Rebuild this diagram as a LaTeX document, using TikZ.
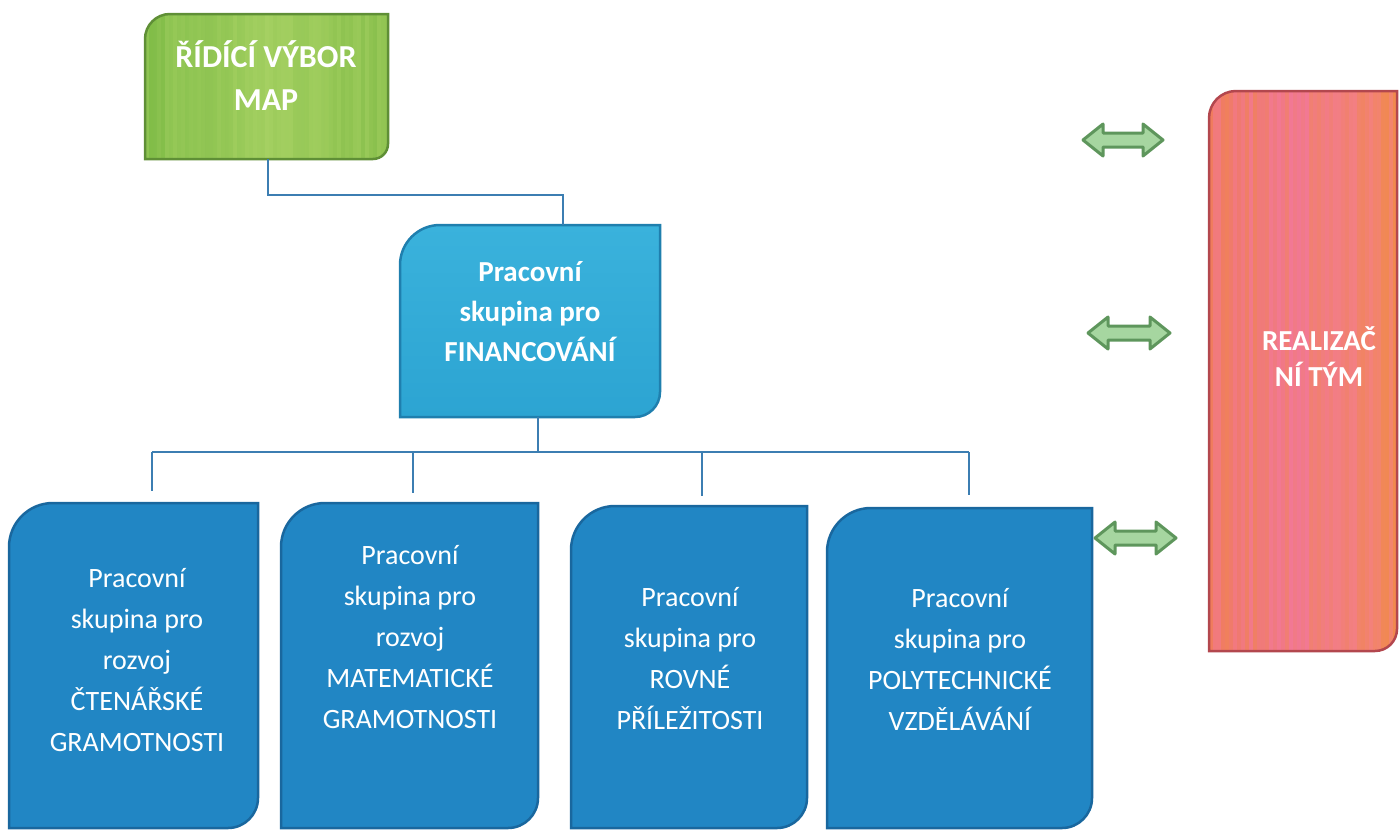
\documentclass[tikz,border=0pt]{standalone}
\usepackage{fontspec}
\setmainfont{Carlito}
\pgfdeclarelayer{background}
\pgfsetlayers{background,main}
\definecolor{grL}{HTML}{7EBB46}
\definecolor{grM}{HTML}{9DCC5C}
\definecolor{grR}{HTML}{86BE4A}
\definecolor{grD}{HTML}{5F8F36}
\definecolor{grS}{HTML}{B5DA6E}
\definecolor{finF}{HTML}{2CA4D2}
\definecolor{finT}{HTML}{3AB2DC}
\definecolor{finD}{HTML}{1F7FAE}
\definecolor{bxF}{HTML}{2186C4}
\definecolor{bxD}{HTML}{19679E}
\definecolor{rdL}{HTML}{F07A62}
\definecolor{rdM}{HTML}{F27895}
\definecolor{rdR}{HTML}{F28A50}
\definecolor{rdD}{HTML}{B3474E}
\definecolor{rdP}{HTML}{F57BA6}
\definecolor{rdO}{HTML}{F08A45}
\definecolor{connblue}{HTML}{3C7EB2}
\definecolor{arF}{HTML}{A6D6A0}
\definecolor{arD}{HTML}{5E965C}
\tikzset{
  boxnode/.style={rectangle, inner sep=0pt, outer sep=0pt, draw=none},
  conn/.style={draw=connblue, line width=1.6pt},
  wtext/.style={text=white, align=center, inner sep=0pt},
  greensty/.style={left color=grL, right color=grR, middle color=grM, draw=grD, line width=2.5pt,
    path picture={\foreach \k in {0,...,62}{\pgfmathsetmacro\oo{0.35*rnd}
      \fill[grS, opacity=\oo] (path picture bounding box.south west) ++(\k*4,0) rectangle ++(4,160);}}},
  finsty/.style={top color=finT, bottom color=finF, draw=finD, line width=2.5pt},
  bluesty/.style={fill=bxF, draw=bxD, line width=2.5pt},
  redsty/.style={left color=rdL, right color=rdR, middle color=rdM, draw=rdD, line width=2.5pt,
    path picture={\foreach \k in {0,...,48}{\pgfmathsetmacro\oo{0.4*rnd}
      \pgfmathsetmacro\cc{rnd>0.5 ? 1 : 0}
      \ifdim\cc pt>0.5pt \def\scol{rdP}\else\def\scol{rdO}\fi
      \fill[\scol, opacity=\oo] (path picture bounding box.south west) ++(\k*4,0) rectangle ++(4,570);}}},
  arrowsty/.style={fill=arF, draw=arD, line width=3pt, line join=round},
}
% #1 node, #2 top-left radius, #3 bottom-right radius, #4 style
\newcommand\diagshape[4]{%
  \path[#4] (#1.south west) -- ([yshift=-#2pt]#1.north west)
    arc[start angle=180, end angle=90, radius=#2] -- (#1.north east)
    -- ([yshift=#3pt]#1.south east)
    arc[start angle=0, end angle=-90, radius=#3] -- cycle;}
% #1 left x, #2 right x, #3 y (px, downward)
\newcommand\dblarrow[3]{%
  \path[arrowsty] (#1,-#3) -- (#1+20,-#3+16) -- (#1+20,-#3+7) -- (#2-20,-#3+7)
    -- (#2-20,-#3+16) -- (#2,-#3) -- (#2-20,-#3-16) -- (#2-20,-#3-7)
    -- (#1+20,-#3-7) -- (#1+20,-#3-16) -- cycle;}
\begin{document}
\begin{tikzpicture}[x=1pt,y=1pt]
\pgfmathsetseed{7}
\useasboundingbox (0,0) rectangle (1399,-830);
% boxes (named, geometry only)
\node[boxnode, minimum width=243pt, minimum height=145pt] (ridici) at (266.5,-86.5) {};
\node[boxnode, minimum width=260pt, minimum height=192pt] (fin) at (530,-321) {};
\node[boxnode, minimum width=249pt, minimum height=325pt] (b1) at (133.5,-665.5) {};
\node[boxnode, minimum width=257pt, minimum height=325pt] (b2) at (409.5,-665.5) {};
\node[boxnode, minimum width=236pt, minimum height=322pt] (b3) at (689,-667) {};
\node[boxnode, minimum width=265pt, minimum height=320pt] (b4) at (959.5,-668) {};
\node[boxnode, minimum width=188pt, minimum height=560pt] (real) at (1303,-371) {};
\begin{pgfonlayer}{background}
\diagshape{ridici}{25}{15}{greensty}
\diagshape{fin}{40}{25}{finsty}
\diagshape{b1}{44}{30}{bluesty}
\diagshape{b2}{44}{30}{bluesty}
\diagshape{b3}{44}{30}{bluesty}
\diagshape{b4}{44}{30}{bluesty}
\diagshape{real}{27}{22}{redsty}
\end{pgfonlayer}
% texts
\node[wtext, font=\fontsize{32}{43}\selectfont\bfseries] (t0) at (266,-76) {ŘÍDÍCÍ VÝBOR\\MAP};
\node[wtext, font=\fontsize{29}{40}\selectfont\bfseries] (tf) at (530,-312) {Pracovní\\skupina pro\\FINANCOVÁNÍ};
\node[wtext, font=\fontsize{28}{41}\selectfont] (t1) at (137,-660) {Pracovní\\skupina pro\\rozvoj\\ČTENÁŘSKÉ\\GRAMOTNOSTI};
\node[wtext, font=\fontsize{28}{41}\selectfont] (t2) at (410,-637) {Pracovní\\skupina pro\\rozvoj\\MATEMATICKÉ\\GRAMOTNOSTI};
\node[wtext, font=\fontsize{28}{41}\selectfont] (t3) at (690,-659) {Pracovní\\skupina pro\\ROVNÉ\\PŘÍLEŽITOSTI};
\node[wtext, font=\fontsize{28}{41}\selectfont] (t4) at (960,-659) {Pracovní\\skupina pro\\POLYTECHNICKÉ\\VZDĚLÁVÁNÍ};
\node[wtext, font=\fontsize{29}{36}\selectfont\bfseries] (tr) at (1319,-357) {REALIZAČ\\NÍ TÝM};
% connectors
\draw[conn] ([xshift=1.5pt]ridici.south) |- ([yshift=30pt]fin.north) coordinate (c1) -| ([xshift=33pt]fin.north);
\draw[conn] ([xshift=8pt]fin.south) -- ++(0,-35) coordinate (hub);
\draw[conn] (hub -| 152,0) -- ([yshift=12pt,xshift=18.5pt]b1.north);
\draw[conn] (hub -| 413,0) -- ([yshift=10pt,xshift=3.5pt]b2.north);
\draw[conn] (hub -| 702,0) -- ([yshift=10pt,xshift=13pt]b3.north);
\draw[conn] (hub -| 969,0) -- ([yshift=13pt,xshift=9.5pt]b4.north);
\draw[conn] (hub -| 152,0) -- (hub -| 969,0);
% double arrows
\dblarrow{1083}{1163}{140}
\dblarrow{1088}{1170}{333}
\dblarrow{1095}{1176}{538}
\end{tikzpicture}
\end{document}
